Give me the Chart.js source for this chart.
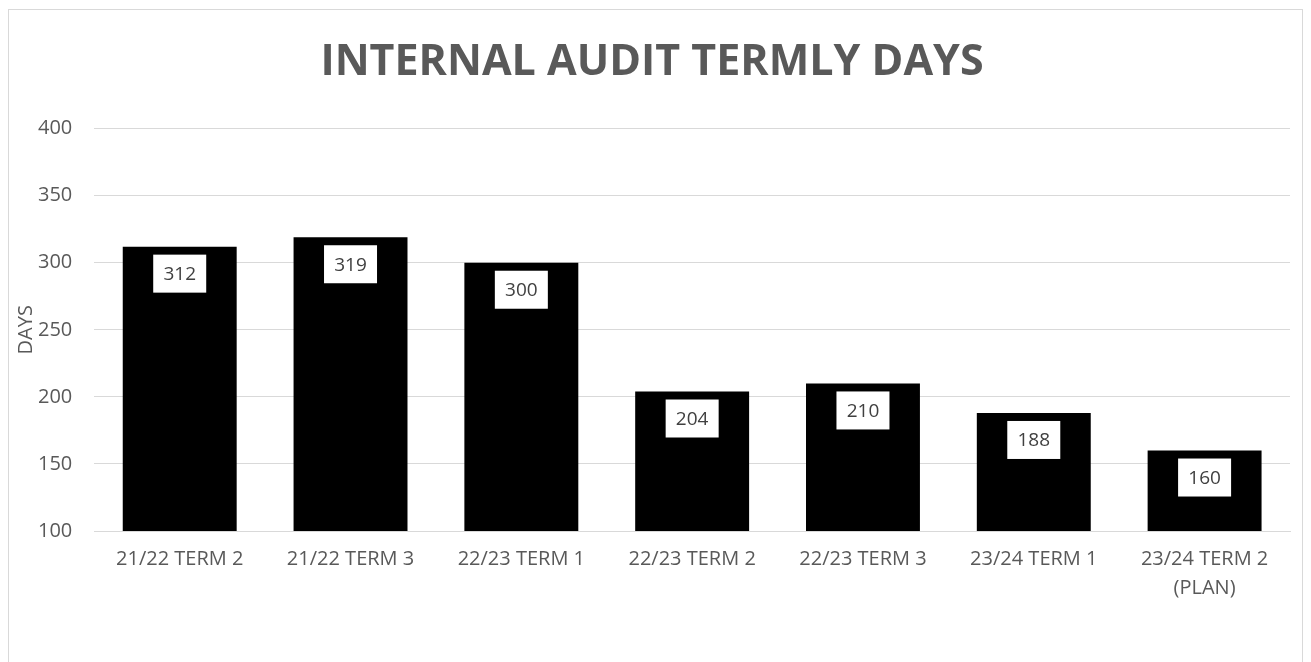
<!DOCTYPE html>
<html>
<head>
<meta charset="utf-8">
<script src="https://cdn.jsdelivr.net/npm/chart.js@4/dist/chart.umd.min.js"></script>
<style>
  html, body { margin: 0; padding: 0; overflow: hidden; background: #fff; }
  #box { position: absolute; left: 8px; top: 9px; width: 1293px; height: 680px; border: 1px solid #d9d9d9; }
  #chartWrap { position: relative; width: 1293px; height: 680px; }
</style>
</head>
<body>
<div id="box"><div id="chartWrap"><canvas id="myChart"></canvas></div></div>
<script>
// données
const categories = ["21/22 TERM 2", "21/22 TERM 3", "22/23 TERM 1", "22/23 TERM 2", "22/23 TERM 3", "23/24 TERM 1", ["23/24 TERM 2", "(PLAN)"]];
const days = [312, 319, 300, 204, 210, 188, 160];
const yTicks = [100, 150, 200, 250, 300, 350, 400];

const textColor = "#595959";
const fontFam = "'Open Sans', 'Liberation Sans', sans-serif";

// étiquettes blanches dans le haut des barres
const boxLabels = {
  id: "boxLabels",
  afterDatasetsDraw(chart) {
    const ctx = chart.ctx;
    const meta = chart.getDatasetMeta(0);
    ctx.save();
    ctx.font = "19px " + fontFam;
    ctx.textAlign = "center";
    ctx.textBaseline = "middle";
    meta.data.forEach((bar, i) => {
      const txt = String(chart.data.datasets[0].data[i]);
      const w = 53, h = 38;
      const top = bar.y + 8;
      ctx.fillStyle = "#ffffff";
      ctx.fillRect(bar.x - w / 2, top, w, h);
      ctx.fillStyle = "#404040";
      ctx.fillText(txt, bar.x, top + h / 2 + 1);
    });
    ctx.restore();
  }
};

const ctx = document.getElementById("myChart").getContext("2d");
const chart = new Chart(ctx, {
  type: "bar",
  data: {
    labels: categories,
    datasets: [
      {
        label: "Days",
        data: days,
        backgroundColor: "#000000",
        borderWidth: 0,
        categoryPercentage: 1,
        barPercentage: 0.667
      }
    ]
  },
  plugins: [boxLabels],
  options: {
    responsive: true,
    maintainAspectRatio: false,
    animation: false,
    layout: { padding: { left: 5, right: 12, top: 0, bottom: 73 } },
    plugins: {
      legend: { display: false },
      tooltip: { enabled: false },
      title: {
        display: true,
        text: "INTERNAL AUDIT TERMLY DAYS",
        color: textColor,
        font: { family: fontFam, size: 43, weight: "bold" },
        padding: { top: 27, bottom: 40 }
      }
    },
    scales: {
      y: {
        min: 100,
        max: 400,
        afterBuildTicks(axis) {
          axis.ticks = yTicks.map(v => ({ value: v }));
        },
        grid: { color: "#d9d9d9", lineWidth: 1, drawTicks: false },
        border: { display: false },
        ticks: { color: textColor, padding: 22, font: { family: fontFam, size: 20 } },
        title: {
          display: true,
          text: "DAYS",
          color: textColor,
          font: { family: fontFam, size: 20 },
          padding: { top: 0, bottom: -22 }
        }
      },
      x: {
        grid: { display: false, drawTicks: false },
        border: { display: true, color: "#d9d9d9", width: 1 },
        ticks: { color: textColor, padding: 14, maxRotation: 0, autoSkip: false, font: { family: fontFam, size: 20, lineHeight: 1.45 } }
      }
    }
  }
});
</script>
</body>
</html>
